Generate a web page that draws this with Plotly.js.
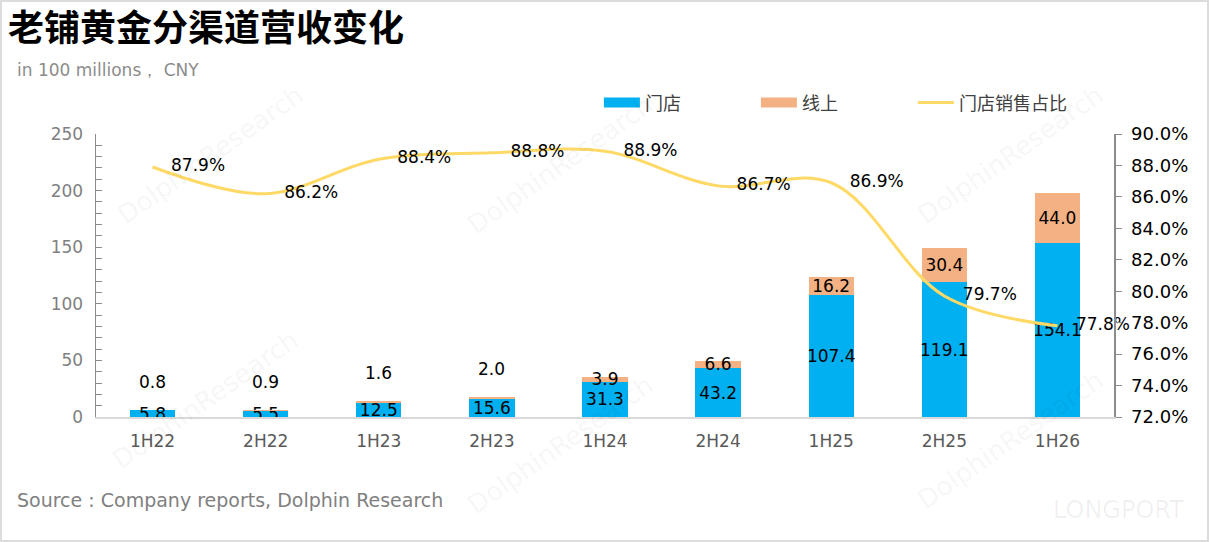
<!DOCTYPE html>
<html>
<head>
<meta charset="utf-8">
<script src="https://cdn.plot.ly/plotly-3.0.1.min.js"></script>
<style>
  html, body { margin: 0; padding: 0; background: #fff; }
  #wrap { position: relative; width: 1209px; height: 542px; }
  #chart { width: 1209px; height: 542px; }
  #frame { position: absolute; left: 0; top: 0; width: 1209px; height: 542px; box-sizing: border-box; border: 2px solid #dcdcdc; pointer-events: none; }
</style>
</head>
<body>
<div id="wrap"><div id="chart"></div><div id="frame"></div></div>
<script>
const categories = ['1H22','2H22','1H23','2H23','1H24','2H24','1H25','2H25','1H26'];
const storeRev  = [5.8, 5.5, 12.5, 15.6, 31.3, 43.2, 107.4, 119.1, 154.1];
const onlineRev = [0.8, 0.9, 1.6, 2.0, 3.9, 6.6, 16.2, 30.4, 44.0];
const storeShare = [87.9, 86.2, 88.4, 88.8, 88.9, 86.7, 86.9, 79.7, 77.8];
const seriesNames = ['门店', '线上', '门店销售占比'];
const seriesColors = ['#00B0F0', '#F4B183', '#FFD966'];

const FONT = 'DejaVu Sans, Liberation Sans, sans-serif';
const CJK = 'Noto Sans CJK SC, Noto Sans, sans-serif';

const smallLimit = 3;
const onlineText = onlineRev.map(v => v >= smallLimit ? v.toFixed(1) : '');

const traces = [
  {
    type: 'bar', name: seriesNames[0], x: categories, y: storeRev, showlegend: false,
    marker: { color: seriesColors[0] }, width: 0.4,
    text: storeRev.map(v => v.toFixed(1)), textposition: 'inside',
    insidetextanchor: 'middle', constraintext: 'none', textangle: 0,
    textfont: { family: FONT, size: 17, color: '#000' },
    hoverinfo: 'skip'
  },
  {
    type: 'bar', name: seriesNames[1], x: categories, y: onlineRev, showlegend: false,
    marker: { color: seriesColors[1] }, width: 0.4,
    text: onlineText, textposition: 'inside',
    insidetextanchor: 'middle', constraintext: 'none', textangle: 0,
    textfont: { family: FONT, size: 17, color: '#000' },
    hoverinfo: 'skip'
  },
  {
    type: 'scatter', name: seriesNames[2], x: categories, y: storeShare, yaxis: 'y2',
    mode: 'lines+markers+text', showlegend: false,
    line: { color: seriesColors[2], width: 3, shape: 'spline', smoothing: 1 },
    marker: { size: 28, color: 'rgba(0,0,0,0)' },
    text: storeShare.map(v => v.toFixed(1) + '%'), textposition: 'middle right',
    textfont: { family: FONT, size: 17, color: '#000' },
    cliponaxis: false, hoverinfo: 'skip'
  }
];
// legend entries (wide swatches as in the reference)
[0, 1, 2].forEach(i => {
  traces.push({
    type: 'scatter', name: seriesNames[i], x: [null], y: [null], mode: 'lines',
    line: { color: seriesColors[i], width: i < 2 ? 13 : 3 },
    showlegend: true, hoverinfo: 'skip'
  });
});

const annotations = [];
categories.forEach((c, i) => {
  if (onlineRev[i] < smallLimit) {
    annotations.push({
      x: c, y: storeRev[i] + onlineRev[i], xref: 'x', yref: 'y',
      text: onlineRev[i].toFixed(1), showarrow: false, yanchor: 'bottom', yshift: 16,
      font: { family: FONT, size: 17, color: '#000' }
    });
  }
});

// title, subtitle & source
annotations.push({
  xref: 'paper', yref: 'paper', x: -0.0885, y: 1.385, xanchor: 'left', yanchor: 'middle',
  text: '<b>老铺黄金分渠道营收变化</b>', showarrow: false,
  font: { family: CJK, size: 36, color: '#000' }
});
annotations.push({
  xref: 'paper', yref: 'paper', x: -0.0795, y: 1.226, xanchor: 'left', yanchor: 'middle',
  text: 'in 100 millions， CNY', showarrow: false,
  font: { family: FONT, size: 17, color: '#8c8c8c' }
});
annotations.push({
  xref: 'paper', yref: 'paper', x: -0.0795, y: -0.293, xanchor: 'left', yanchor: 'middle',
  text: 'Source : Company reports, Dolphin Research', showarrow: false,
  font: { family: FONT, size: 19, color: '#808080' }
});

// watermarks
const wm = [[210,155],[560,165],[1010,155],[205,400],[560,445],[1010,440]];
wm.forEach(p => {
  annotations.push({
    xref: 'paper', yref: 'paper', x: (p[0]-96)/1018, y: (417-p[1])/283,
    xanchor: 'center', yanchor: 'middle',
    text: 'DolphinResearch', showarrow: false, textangle: -35,
    font: { family: FONT, size: 26, color: 'rgba(0,0,0,0.055)' }
  });
});
annotations.push({
  xref: 'paper', yref: 'paper', x: (1118-96)/1018, y: (417-510)/283,
  xanchor: 'center', yanchor: 'middle',
  text: 'LONGPORT', showarrow: false,
  font: { family: FONT, size: 24, color: 'rgba(0,0,0,0.06)' }
});

const layout = {
  width: 1209, height: 542,
  margin: { l: 96, r: 95, t: 134, b: 125 },
  paper_bgcolor: '#fff', plot_bgcolor: 'rgba(0,0,0,0)',
  barmode: 'stack', bargap: 0.6,
  showlegend: true,
  legend: {
    orientation: 'h', x: 0.494, xanchor: 'left', y: 1.11, yanchor: 'middle',
    entrywidth: 106, entrywidthmode: 'pixels', traceorder: 'normal', itemwidth: 36,
    font: { family: CJK, size: 18, color: '#404040' }, bgcolor: 'rgba(0,0,0,0)'
  },
  xaxis: {
    type: 'category', range: [-0.5, 8.5], showgrid: false, zeroline: false,
    showline: true, linecolor: '#d9d9d9', linewidth: 2,
    ticks: '', ticklabelstandoff: 8,
    tickfont: { family: FONT, size: 17, color: '#595959' }
  },
  yaxis: {
    range: [0, 250], dtick: 50, showgrid: false, zeroline: false,
    showline: true, linecolor: '#8c8c8c', linewidth: 1.5,
    ticks: 'inside', ticklen: 6, tickcolor: '#8c8c8c', tickwidth: 1,
    minor: { dtick: 10, ticks: 'inside', ticklen: 6, tickcolor: '#8c8c8c', showgrid: false },
    ticklabelstandoff: 8,
    tickfont: { family: FONT, size: 17, color: '#7f7f7f' }
  },
  yaxis2: {
    overlaying: 'y', side: 'right', range: [72, 90], dtick: 2,
    tickformat: '.1f', ticksuffix: '%', showgrid: false, zeroline: false,
    showline: true, linecolor: '#8c8c8c', linewidth: 1.5,
    ticks: 'outside', ticklen: 6, tickcolor: '#8c8c8c',
    ticklabelstandoff: 6,
    tickfont: { family: FONT, size: 18, color: '#000' }
  },
  annotations: annotations
};

Plotly.newPlot('chart', traces, layout, { displayModeBar: false, staticPlot: true });
</script>
</body>
</html>
